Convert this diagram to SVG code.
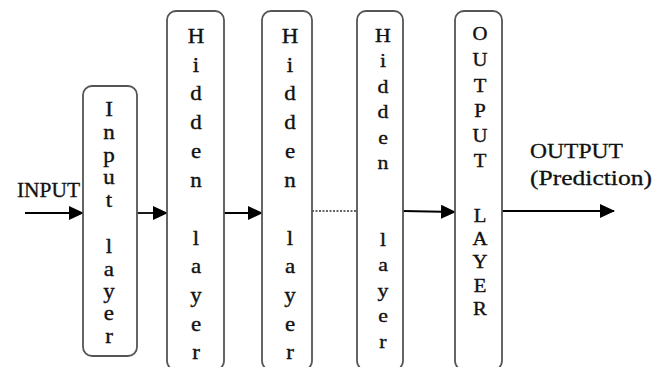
<svg xmlns="http://www.w3.org/2000/svg" width="668" height="367" viewBox="0 0 668 367">
<style>
.box{fill:#fff;stroke:#555;stroke-width:1.8}
.lbl{font-family:"Liberation Serif","Times New Roman",serif;fill:#111;stroke:#111;stroke-width:0.35;text-anchor:middle}
.big{font-family:"Liberation Serif","Times New Roman",serif;fill:#111;stroke:#111;stroke-width:0.3}
.conn{stroke:#000;stroke-width:1.8;fill:none}
</style>
<defs>
<marker id="ah" markerUnits="userSpaceOnUse" markerWidth="15" markerHeight="14" refX="14" refY="7" orient="auto">
<path d="M0,0 L15,7 L0,14 Z" fill="#000"/>
</marker>
</defs>
<rect width="668" height="367" fill="#fff"/>
<g id="connectors">
<line class="conn" x1="25" y1="213" x2="83" y2="213" marker-end="url(#ah)"/>
<line class="conn" x1="137" y1="213" x2="167" y2="213" marker-end="url(#ah)"/>
<line class="conn" x1="224" y1="213" x2="262" y2="213" marker-end="url(#ah)"/>
<line x1="312" y1="211" x2="357" y2="211" stroke="#333" stroke-width="1.3" stroke-dasharray="2,1.5"/>
<line class="conn" x1="403" y1="211" x2="455" y2="212" marker-end="url(#ah)"/>
<line class="conn" x1="502" y1="211" x2="614" y2="211" marker-end="url(#ah)"/>
</g>
<g id="input-label">
<text class="big" x="17" y="197" font-size="21" textLength="63" lengthAdjust="spacingAndGlyphs">INPUT</text>
</g>
<g id="input-layer">
<rect class="box" x="83" y="86" width="54" height="270" rx="9"/>
<text class="lbl" font-size="20" transform="translate(109,0) scale(1.15,1) translate(-109,0)"><tspan x="109" y="116">I</tspan><tspan x="109" y="139">n</tspan><tspan x="109" y="162">p</tspan><tspan x="109" y="184">u</tspan><tspan x="109" y="207">t</tspan><tspan x="109" y="253">l</tspan><tspan x="109" y="276">a</tspan><tspan x="109" y="298">y</tspan><tspan x="109" y="320">e</tspan><tspan x="109" y="343">r</tspan></text>
</g>
<g id="hidden-1">
<rect class="box" x="167" y="11" width="57" height="359" rx="9"/>
<text class="lbl" font-size="20" transform="translate(196,0) scale(1.15,1) translate(-196,0)"><tspan x="196" y="43">H</tspan><tspan x="196" y="72">i</tspan><tspan x="196" y="100">d</tspan><tspan x="196" y="129">d</tspan><tspan x="196" y="158">e</tspan><tspan x="196" y="187">n</tspan><tspan x="196" y="245">l</tspan><tspan x="196" y="273">a</tspan><tspan x="196" y="302">y</tspan><tspan x="196" y="331">e</tspan><tspan x="196" y="359">r</tspan></text>
</g>
<g id="hidden-2">
<rect class="box" x="262" y="11" width="50" height="359" rx="9"/>
<text class="lbl" font-size="20" transform="translate(290,0) scale(1.15,1) translate(-290,0)"><tspan x="290" y="43">H</tspan><tspan x="290" y="72">i</tspan><tspan x="290" y="100">d</tspan><tspan x="290" y="129">d</tspan><tspan x="290" y="158">e</tspan><tspan x="290" y="187">n</tspan><tspan x="290" y="245">l</tspan><tspan x="290" y="273">a</tspan><tspan x="290" y="302">y</tspan><tspan x="290" y="331">e</tspan><tspan x="290" y="359">r</tspan></text>
</g>
<g id="hidden-3">
<rect class="box" x="357" y="11" width="46" height="359" rx="9"/>
<text class="lbl" font-size="19" transform="translate(383,0) scale(1.15,1) translate(-383,0)"><tspan x="383" y="42">H</tspan><tspan x="383" y="67">i</tspan><tspan x="383" y="93">d</tspan><tspan x="383" y="118">d</tspan><tspan x="383" y="144">e</tspan><tspan x="383" y="169">n</tspan><tspan x="383" y="246">l</tspan><tspan x="383" y="271">a</tspan><tspan x="383" y="297">y</tspan><tspan x="383" y="322">e</tspan><tspan x="383" y="348">r</tspan></text>
</g>
<g id="output-layer">
<rect class="box" x="455" y="11" width="47" height="359" rx="9"/>
<text class="lbl" font-size="18" transform="translate(480,0) scale(1.15,1) translate(-480,0)"><tspan x="480" y="40">O</tspan><tspan x="480" y="66">U</tspan><tspan x="480" y="92">T</tspan><tspan x="480" y="117">P</tspan><tspan x="480" y="142">U</tspan><tspan x="480" y="167">T</tspan><tspan x="480" y="222">L</tspan><tspan x="480" y="245">A</tspan><tspan x="480" y="268">Y</tspan><tspan x="480" y="292">E</tspan><tspan x="480" y="315">R</tspan></text>
</g>
<g id="output-label">
<text class="big" x="530" y="158" font-size="22" textLength="93" lengthAdjust="spacingAndGlyphs">OUTPUT</text>
<text class="big" x="530" y="185" font-size="22" textLength="122" lengthAdjust="spacingAndGlyphs">(Prediction)</text>
</g>
</svg>
